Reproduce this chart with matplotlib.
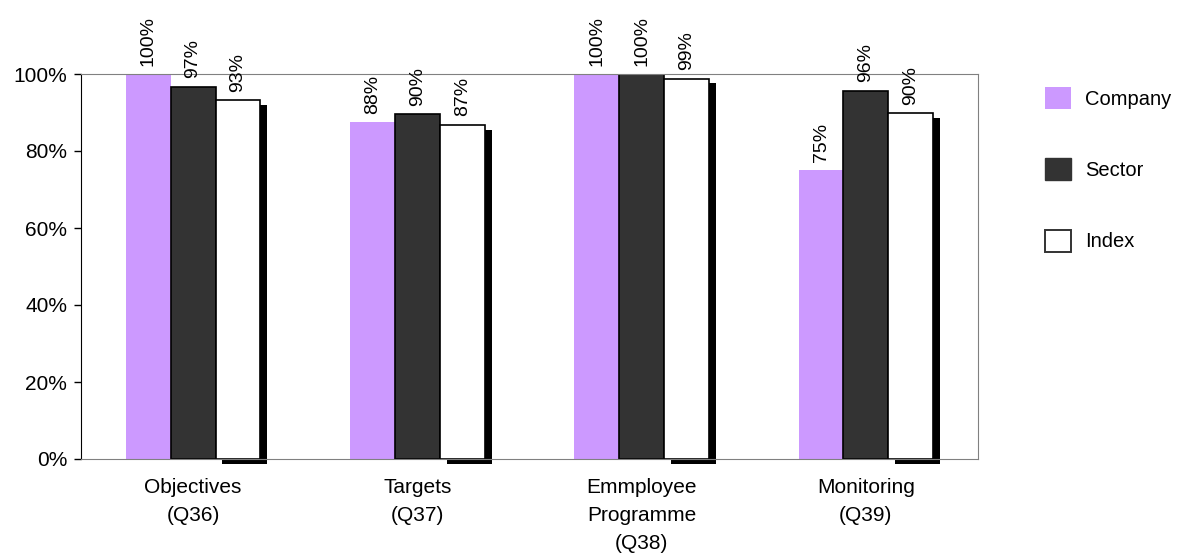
import numpy as np
import matplotlib
matplotlib.use("Agg")
import matplotlib.pyplot as plt
import matplotlib.patheffects as pe
from matplotlib.patches import Patch

plt.rcParams['font.family'] = ['Liberation Sans', 'DejaVu Sans']

categories = ["Objectives\n(Q36)", "Targets\n(Q37)", "Emmployee\nProgramme\n(Q38)", "Monitoring\n(Q39)"]
company = [100, 87.5, 100, 75]
sector = [96.7, 89.5, 100, 95.7]
index = [93.2, 86.8, 98.8, 89.9]
series_names = ["Company", "Sector", "Index"]

fig = plt.figure(figsize=(11.84, 5.6), dpi=100)
ax = fig.add_axes([81/1184, 1 - 459/560, 897/1184, 385/560])

x = np.arange(len(categories))
w = 0.2

b1 = ax.bar(x - w, company, w, color="#cc99ff", edgecolor="none", zorder=2)
b2 = ax.bar(x, sector, w, color="#333333", edgecolor="black", linewidth=1.2, zorder=2)
b3 = ax.bar(x + w, index, w, color="white", edgecolor="black", linewidth=1.2, zorder=2,
            path_effects=[pe.SimplePatchShadow(offset=(5, -3.5), shadow_rgbFace="black", alpha=1), pe.Normal()])
for b in b3:
    b.set_clip_on(False)

for bars, vals in [(b1, company), (b2, sector), (b3, index)]:
    for rect, v in zip(bars, vals):
        ax.annotate(f"{v:.0f}%", (rect.get_x() + rect.get_width() / 2, rect.get_height()),
                    xytext=(0, 6), textcoords="offset points", rotation=90,
                    ha="center", va="bottom", fontsize=14, annotation_clip=False)

ax.set_xlim(-0.5, len(categories) - 0.5)
ax.set_ylim(0, 100)
ax.set_yticks(range(0, 101, 20))
ax.set_yticklabels([f"{t}%" for t in range(0, 101, 20)], fontsize=15)
ax.set_xticks(x)
ax.set_xticklabels(categories, fontsize=15, linespacing=1.6)
ax.tick_params(axis="x", length=0, pad=14)
ax.tick_params(axis="y", direction="out", length=5, width=1, pad=5)

for s in ["top", "right", "bottom"]:
    ax.spines[s].set_color("#808080")
ax.spines["left"].set_color("black")

handles = [Patch(facecolor="#cc99ff", edgecolor="none"),
           Patch(facecolor="#333333", edgecolor="#333333"),
           Patch(facecolor="white", edgecolor="#333333", linewidth=1.4)]
fig.legend(handles, series_names, loc="upper left", bbox_to_anchor=(1027/1184, 1 - 69/560),
           frameon=False, fontsize=14.5, labelspacing=2.45, handlelength=1.3, handleheight=1.3,
           handletextpad=0.7)

fig.savefig("out.png", dpi=100)
